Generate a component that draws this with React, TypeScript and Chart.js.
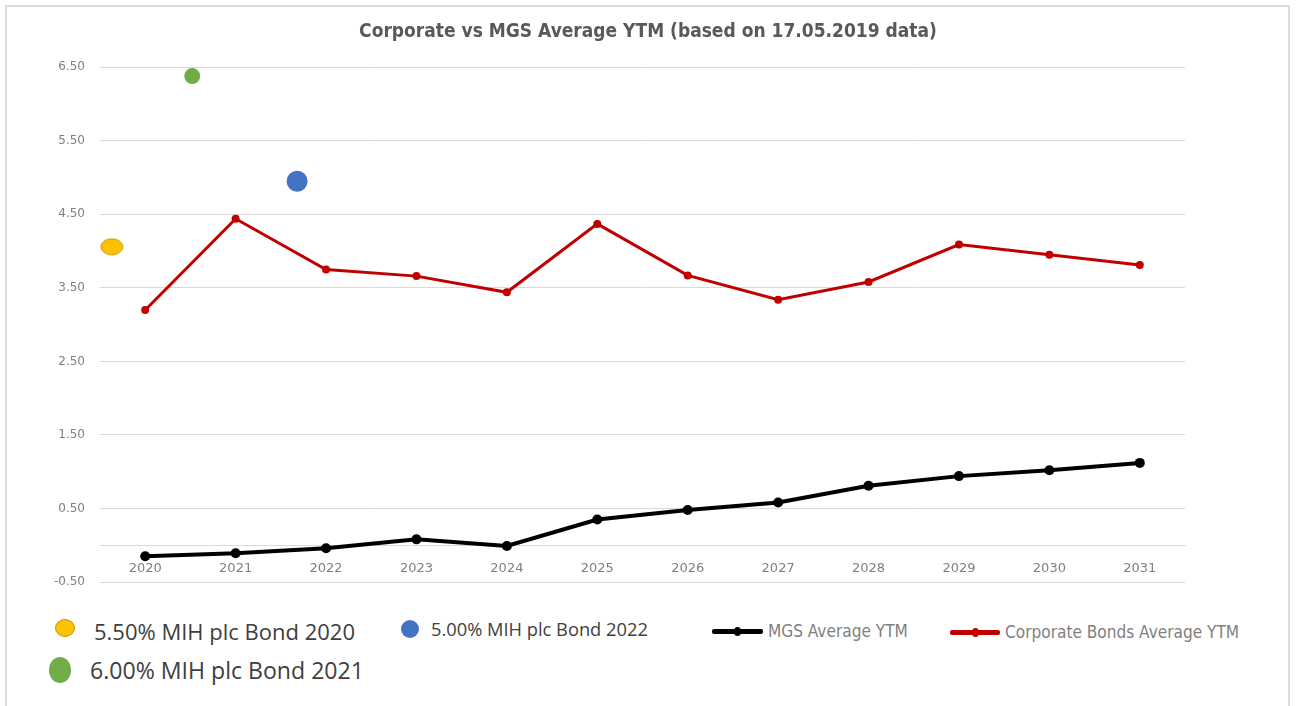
import React, { useEffect, useRef } from "react";
import { Chart, registerables } from "chart.js";

Chart.register(...registerables);

const categories = ["2020", "2021", "2022", "2023", "2024", "2025", "2026", "2027", "2028", "2029", "2030", "2031"];
const corporateAverageYtm = [3.2, 4.44, 3.75, 3.66, 3.44, 4.37, 3.67, 3.34, 3.58, 4.09, 3.95, 3.81];
const mgsAverageYtm = [-0.15, -0.11, -0.04, 0.08, -0.01, 0.35, 0.48, 0.58, 0.81, 0.94, 1.02, 1.12];
const bondNames = ["5.50% MIH plc Bond 2020", "6.00% MIH plc Bond 2021", "5.00% MIH plc Bond 2022"];
const bondCategoryX = [-0.37, 0.52, 1.68];
const bondYtm = [4.06, 6.38, 4.95];
const bondColors = ["#ffc000", "#70ad47", "#4472c4"];
const yTicks = [-0.5, 0.5, 1.5, 2.5, 3.5, 4.5, 5.5, 6.5];

const TITLE = "Corporate vs MGS Average YTM (based on 17.05.2019 data)";
const AXIS_FONT = "'DejaVu Sans', 'Liberation Sans', sans-serif";
const NARROW_FONT = "'Liberation Sans Narrow', 'DejaVu Sans Condensed', 'Liberation Sans', sans-serif";
const BOND_FONT = "'Open Sans', 'Liberation Sans', sans-serif";

function ellipseCanvas(w: number, h: number, fill: string, stroke: string) {
  const c = document.createElement("canvas");
  c.width = w + 2;
  c.height = h + 2;
  const ctx = c.getContext("2d")!;
  ctx.beginPath();
  ctx.ellipse(c.width / 2, c.height / 2, w / 2, h / 2, 0, 0, Math.PI * 2);
  ctx.fillStyle = fill;
  ctx.fill();
  ctx.strokeStyle = stroke;
  ctx.lineWidth = 1;
  ctx.stroke();
  return c;
}

export default function App() {
  const canvasRef = useRef<HTMLCanvasElement | null>(null);

  useEffect(() => {
    const canvas = canvasRef.current;
    if (!canvas) return;
    const bondStyles: any[] = [
      ellipseCanvas(22, 16, bondColors[0], "#c99a00"),
      "circle",
      "circle",
    ];
    const bondRadius = [11, 8, 10.5];
    const chart = new Chart(canvas, {
      type: "line",
      data: {
        datasets: [
          {
            label: "Corporate Bonds Average YTM",
            data: categories.map((_, i) => ({ x: i, y: corporateAverageYtm[i] })),
            borderColor: "#c00000",
            backgroundColor: "#c00000",
            borderWidth: 3,
            pointRadius: 4,
            pointBorderWidth: 0,
            tension: 0,
          },
          {
            label: "MGS Average YTM",
            data: categories.map((_, i) => ({ x: i, y: mgsAverageYtm[i] })),
            borderColor: "#000000",
            backgroundColor: "#000000",
            borderWidth: 4,
            pointRadius: 5,
            pointBorderWidth: 0,
            tension: 0,
          },
          ...bondNames.map((name, i) => ({
            type: "scatter" as const,
            label: name,
            data: [{ x: bondCategoryX[i], y: bondYtm[i] }],
            backgroundColor: bondColors[i],
            borderColor: bondColors[i],
            pointStyle: bondStyles[i],
            pointRadius: bondRadius[i],
            pointBorderWidth: 0,
            showLine: false,
          })),
        ],
      },
      options: {
        animation: false,
        responsive: false,
        maintainAspectRatio: false,
        layout: { padding: { left: 0, right: 0, top: 0, bottom: 18 } },
        plugins: {
          legend: { display: false },
          tooltip: { enabled: false },
          title: {
            display: true,
            text: TITLE,
            color: "#595959",
            font: { family: NARROW_FONT, size: 19, weight: "bold" },
            padding: { top: 21, bottom: 23.5 },
          },
        },
        scales: {
          x: {
            type: "linear",
            min: -0.5,
            max: 11.5,
            position: { y: 0 } as any,
            afterBuildTicks: (s: any) => {
              s.ticks = categories.map((_, i) => ({ value: i }));
            },
            grid: { display: true, color: "rgba(0,0,0,0)", drawTicks: false },
            border: { display: true, color: "#d9d9d9", width: 1 },
            ticks: {
              padding: 16,
              color: "#808080",
              font: { family: AXIS_FONT, size: 13 },
              autoSkip: false,
              maxRotation: 0,
              callback: (v: any) => categories[Number(v)] ?? "",
            },
          },
          y: {
            type: "linear",
            min: -0.5,
            max: 6.5,
            afterBuildTicks: (s: any) => {
              s.ticks = yTicks.map((v) => ({ value: v }));
            },
            afterFit: (s: any) => {
              s.width = 100;
              s.paddingTop = 0;
              s.paddingBottom = 0;
            },
            grid: { color: "#d9d9d9", drawTicks: false, lineWidth: 1 },
            border: { display: false },
            ticks: {
              padding: 15,
              color: "#808080",
              font: { family: AXIS_FONT, size: 12 },
              callback: (v: any) => Number(v).toFixed(2),
            },
          },
          yRightSpace: {
            type: "linear",
            position: "right",
            display: true,
            grid: { display: false, drawOnChartArea: false, drawTicks: false },
            border: { display: false },
            ticks: { display: false },
            afterFit: (s: any) => {
              s.width = 111;
              s.paddingTop = 0;
              s.paddingBottom = 0;
            },
          },
        },
      },
    } as any);
    return () => chart.destroy();
  }, []);

  const textStyle = (left: number, top: number, size: number, color: string, family: string): React.CSSProperties => ({
    position: "absolute",
    left,
    top,
    transform: "translateY(-50%)",
    fontSize: size,
    lineHeight: 1,
    color,
    fontFamily: family,
    whiteSpace: "nowrap",
  });
  const dot = (cx: number, cy: number, w: number, h: number, color: string, border?: string): React.CSSProperties => ({
    position: "absolute",
    left: cx - w / 2,
    top: cy - h / 2,
    width: w,
    height: h,
    borderRadius: "50%",
    background: color,
    boxSizing: "border-box",
    border: border ? `1px solid ${border}` : "none",
  });

  return (
    <div style={{ position: "absolute", left: 0, top: 0, width: 1296, height: 706, background: "#ffffff", overflow: "hidden" }}>
      <div
        style={{
          position: "absolute",
          left: 5,
          top: 5,
          width: 1285,
          height: 760,
          border: "2px solid #dcdcdc",
          boxSizing: "border-box",
        }}
      />
      <canvas ref={canvasRef} width={1296} height={600} style={{ position: "absolute", left: 0, top: 0, width: 1296, height: 600 }} />
      {/* Legend */}
      <div style={dot(65, 628, 20, 18, bondColors[0], "#c99a00")} />
      <div style={textStyle(94, 631, 22, "#404040", BOND_FONT)}>{bondNames[0]}</div>
      <div style={dot(410, 629, 18, 18, bondColors[2])} />
      <div style={textStyle(431, 629, 18.3, "#404040", BOND_FONT)}>{bondNames[2]}</div>
      <div style={dot(60, 670, 22, 26, bondColors[1])} />
      <div style={textStyle(90, 671, 23.1, "#404040", BOND_FONT)}>{bondNames[1]}</div>

      <div style={{ position: "absolute", left: 712, top: 629, width: 51, height: 5, background: "#000", borderRadius: 2 }} />
      <div style={dot(737, 631, 7, 9, "#000")} />
      <div style={textStyle(768, 632, 17.1, "#808080", NARROW_FONT)}>MGS Average YTM</div>

      <div style={{ position: "absolute", left: 950, top: 630, width: 50, height: 5, background: "#c00000", borderRadius: 2 }} />
      <div style={dot(975, 632, 7, 9, "#c00000")} />
      <div style={textStyle(1005, 633, 17.1, "#808080", NARROW_FONT)}>Corporate Bonds Average YTM</div>
    </div>
  );
}
